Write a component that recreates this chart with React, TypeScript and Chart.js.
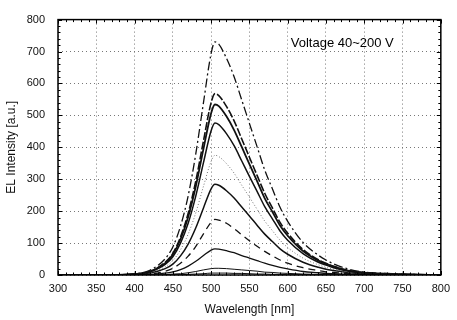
import React, { useEffect, useRef } from "react";
import { Chart, registerables } from "chart.js";

Chart.register(...registerables);

const wavelengths = [300, 350, 400, 420, 440, 450, 460, 470, 480, 490, 500, 505, 510, 520, 530, 540, 550, 560, 570, 580, 590, 600, 620, 640, 650, 660, 680, 700, 750, 800];

const s200 = [0, 0, 4, 15, 51, 88, 153, 248, 380, 540, 694, 730, 723, 679, 621, 548, 475, 402, 329, 270, 212, 168, 102, 62, 47, 35, 18, 9, 3, 0];
const s180 = [0, 0, 3, 11, 40, 68, 119, 193, 295, 420, 540, 568, 562, 528, 483, 426, 369, 312, 256, 210, 165, 131, 80, 48, 37, 27, 14, 7, 2, 0];
const s160 = [0, 0, 3, 11, 37, 64, 112, 182, 278, 395, 507, 534, 529, 497, 454, 401, 347, 294, 240, 198, 155, 123, 75, 45, 35, 26, 13, 7, 2, 0];
const s140 = [0, 0, 2, 10, 33, 57, 100, 162, 248, 352, 452, 476, 471, 443, 405, 357, 309, 262, 214, 176, 138, 109, 67, 40, 31, 23, 12, 6, 2, 0];
const s120 = [0, 0, 2, 8, 26, 45, 79, 128, 195, 278, 356, 375, 371, 349, 319, 281, 244, 206, 169, 139, 109, 86, 53, 32, 24, 18, 9, 5, 2, 0];
const s100 = [0, 0, 1, 6, 20, 34, 60, 97, 148, 210, 270, 284, 281, 264, 241, 213, 185, 156, 128, 105, 82, 65, 40, 24, 18, 14, 7, 4, 1, 0];
const s80 = [0, 0, 1, 3, 12, 21, 37, 59, 90, 129, 165, 174, 172, 162, 145, 126, 107, 90, 74, 60, 47, 37, 23, 14, 10, 8, 4, 2, 1, 0];
const s60 = [0, 0, 0, 2, 6, 10, 17, 28, 43, 61, 78, 82, 81, 76, 70, 61, 53, 45, 37, 30, 24, 19, 11, 7, 5, 4, 2, 1, 0, 0];
const s40a = [0, 0, 0, 0, 1, 3, 4, 7, 11, 16, 20, 21, 21, 20, 18, 16, 14, 12, 9, 8, 6, 5, 3, 2, 1, 1, 1, 0, 0, 0];
const s40b = [0, 0, 0, 0, 0, 1, 1, 2, 3, 4, 6, 6, 6, 6, 5, 5, 4, 3, 3, 2, 2, 1, 1, 1, 0, 0, 0, 0, 0, 0];

const xMin = 300;
const xMax = 800;
const xStep = 50;
const yMin = 0;
const yMax = 800;
const yStep = 100;

const xTitle = "Wavelength [nm]";
const yTitle = "EL Intensity [a.u.]";
const noteText = "Voltage 40~200 V";
const noteX = 604;
const noteY = 724;

const FONT = "'Liberation Sans', Arial, Helvetica, sans-serif";

type Style = { dash: number[]; width: number; color: string };
const series: { data: number[]; style: Style }[] = [
  { data: s200, style: { dash: [9, 3, 2, 3], width: 1.3, color: "#111" } },
  { data: s180, style: { dash: [8, 2], width: 1.6, color: "#111" } },
  { data: s160, style: { dash: [], width: 1.8, color: "#111" } },
  { data: s140, style: { dash: [], width: 1.5, color: "#111" } },
  { data: s120, style: { dash: [1, 2], width: 1, color: "#777" } },
  { data: s100, style: { dash: [], width: 1.5, color: "#111" } },
  { data: s80, style: { dash: [7, 5], width: 1.3, color: "#111" } },
  { data: s60, style: { dash: [], width: 1.3, color: "#111" } },
  { data: s40a, style: { dash: [], width: 1, color: "#111" } },
  { data: s40b, style: { dash: [], width: 1, color: "#111" } },
];

const framePlugin = {
  id: "frame",
  afterDraw(chart: any) {
    const { ctx, chartArea } = chart;
    const xs = chart.scales.x;
    const ys = chart.scales.y;
    const { left, right, top, bottom } = chartArea;
    ctx.save();
    ctx.strokeStyle = "#000";
    ctx.lineWidth = 1.5;
    ctx.setLineDash([]);
    ctx.strokeRect(left, top, right - left, bottom - top);
    ctx.lineWidth = 1;
    for (let v = xMin; v <= xMax; v += 10) {
      const px = Math.round(xs.getPixelForValue(v)) + 0.5;
      const len = v % xStep === 0 ? 4 : 2.5;
      ctx.beginPath();
      ctx.moveTo(px, bottom);
      ctx.lineTo(px, bottom - len);
      ctx.moveTo(px, top);
      ctx.lineTo(px, top + len);
      ctx.stroke();
    }
    for (let v = yMin; v <= yMax; v += 20) {
      const py = Math.round(ys.getPixelForValue(v)) + 0.5;
      const len = v % yStep === 0 ? 4 : 2.5;
      ctx.beginPath();
      ctx.moveTo(left, py);
      ctx.lineTo(left + len, py);
      ctx.moveTo(right, py);
      ctx.lineTo(right - len, py);
      ctx.stroke();
    }
    ctx.fillStyle = "#000";
    ctx.font = `13px ${FONT}`;
    ctx.textAlign = "left";
    ctx.textBaseline = "middle";
    ctx.fillText(noteText, xs.getPixelForValue(noteX), ys.getPixelForValue(noteY));
    ctx.restore();
  },
};

const bgPlugin = {
  id: "bg",
  beforeDraw(chart: any) {
    const { ctx, width, height } = chart;
    ctx.save();
    ctx.fillStyle = "#fff";
    ctx.fillRect(0, 0, width, height);
    ctx.restore();
  },
};

export default function App() {
  const ref = useRef<HTMLCanvasElement | null>(null);
  useEffect(() => {
    if (!ref.current) return;
    const chart = new Chart(ref.current, {
      type: "line",
      data: {
        datasets: series.map((s, i) => ({
          label: "s" + i,
          data: wavelengths.map((w, j) => ({ x: w, y: s.data[j] })),
          borderColor: s.style.color,
          borderWidth: s.style.width,
          borderDash: s.style.dash,
          pointRadius: 0,
          fill: false,
          tension: 0.4,
          cubicInterpolationMode: "monotone" as const,
        })),
      },
      options: {
        responsive: false,
        animation: false,
        layout: { padding: { left: 0, top: 13, right: 12, bottom: 0 } },
        plugins: { legend: { display: false }, tooltip: { enabled: false } },
        scales: {
          x: {
            type: "linear",
            min: xMin,
            max: xMax,
            ticks: { stepSize: xStep, padding: 7, color: "#111", font: { family: FONT, size: 11 }, maxRotation: 0 },
            grid: { color: "#777", lineWidth: 1, drawTicks: false },
            border: { display: false, dash: [1, 3] },
            title: { display: true, text: xTitle, color: "#111", font: { family: FONT, size: 12 }, padding: { top: 0, bottom: 3 } },
            afterFit(scale: any) {
              scale.height = 45;
            },
          },
          y: {
            type: "linear",
            min: yMin,
            max: yMax,
            ticks: { stepSize: yStep, padding: 13, color: "#111", font: { family: FONT, size: 11 } },
            grid: { color: "#777", lineWidth: 1, drawTicks: false },
            border: { display: false, dash: [1, 3] },
            title: { display: true, text: yTitle, color: "#111", font: { family: FONT, size: 12 }, padding: { top: 4, bottom: 0 } },
            afterFit(scale: any) {
              scale.width = 58;
            },
          },
        },
      },
      plugins: [bgPlugin, framePlugin],
    });
    return () => chart.destroy();
  }, []);
  return (
    <div style={{ position: "fixed", left: 0, top: 0, width: 457, height: 320, background: "#fff" }}>
      <canvas ref={ref} width={457} height={320} style={{ display: "block" }} />
    </div>
  );
}
